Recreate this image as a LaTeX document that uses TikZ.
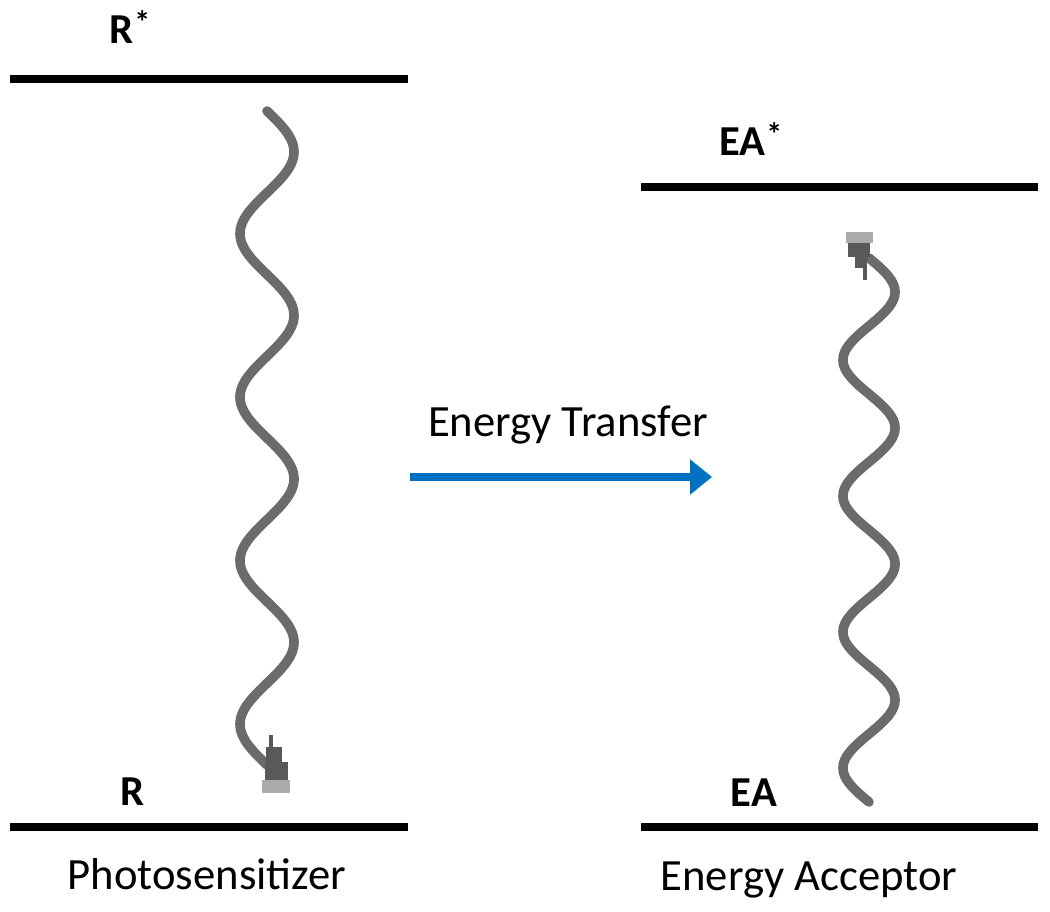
\documentclass[tikz,border=0pt]{standalone}
\usepackage{fontspec}
\setmainfont{Carlito}
\usetikzlibrary{arrows.meta}
\definecolor{wavegray}{HTML}{6B6B6B}
\definecolor{tipdark}{HTML}{595959}
\definecolor{tiplight}{HTML}{ABABAB}
\definecolor{xferblue}{HTML}{0070C0}
\newcommand{\starsup}{\kern0.5pt\raisebox{7pt}{\fontsize{24}{26}\selectfont\bfseries *}}
\tikzset{
  level/.style={line width=5.5pt, black},
  wave/.style={line width=7.2pt, wavegray, line cap=round},
  statelbl/.style={font=\fontsize{32}{36}\selectfont\bfseries, inner sep=0pt, anchor=base},
  caption/.style={font=\fontsize{33.5}{38}\selectfont, inner sep=0pt, anchor=base},
  xfer/.style={line width=5.5pt, xferblue, -{Triangle[length=16.5pt,width=25.5pt]}},
  tipd/.style={fill=tipdark, draw=none},
  tipl/.style={fill=tiplight, draw=none}
}
\begin{document}
\begin{tikzpicture}[x=0.75pt,y=-0.75pt]
\useasboundingbox (0,0) rectangle (1050,911);

% energy levels
\coordinate (rsL) at (10,79);  \coordinate (rsR) at (408,79);
\coordinate (rL) at (10,827);  \coordinate (rR) at (408,827);
\coordinate (eaSL) at (641,187); \coordinate (eaSR) at (1038,187);
\coordinate (eaL) at (641,827); \coordinate (eaR) at (1038,827);
\draw[level] (rsL) -- (rsR);
\draw[level] (rL) -- (rR);
\draw[level] (eaSL) -- (eaSR);
\draw[level] (eaL) -- (eaR);

% labels
\node[statelbl] (rstar) at (130,43) {R\starsup};
\node[statelbl] (r) at (133,805) {R};
\node[statelbl] (eastar) at (751,155) {EA\starsup};
\node[statelbl] (ea) at (754,806) {EA};
\node[caption] (ps) at (207,889) {Photosensitizer};
\node[caption] (acc) at (809,890) {Energy Acceptor};
\node[caption] (et) at (568,436) {Energy Transfer};

% energy transfer arrow
\coordinate (etA) at (410,477);
\coordinate (etB) at (712,477);
\draw[xfer] (etA) -- (etB);

% left wave (R* -> R)
\draw[wave] plot[domain=0:1440, samples=240, smooth] ({267+27*sin(\x)}, {111+\x/360*163.5});
% left tip (pixelated)
\fill[tipd] (269,735) rectangle (273,748);
\fill[tipd] (266,747) rectangle (282,762);
\fill[tipd] (265,762) rectangle (288,780);
\fill[tipl] (262,780) rectangle (290,793);

% right wave (EA -> EA*)
\draw[wave] plot[domain=0:1440, samples=240, smooth] ({869+26*sin(\x)}, {258+\x/360*136});
% right tip (pixelated)
\fill[tipl] (846,232) rectangle (873,243);
\fill[tipd] (848,243) rectangle (870,257);
\fill[tipd] (855,257) rectangle (867,268);
\fill[tipd] (863,268) rectangle (867,280);
\end{tikzpicture}
\end{document}
